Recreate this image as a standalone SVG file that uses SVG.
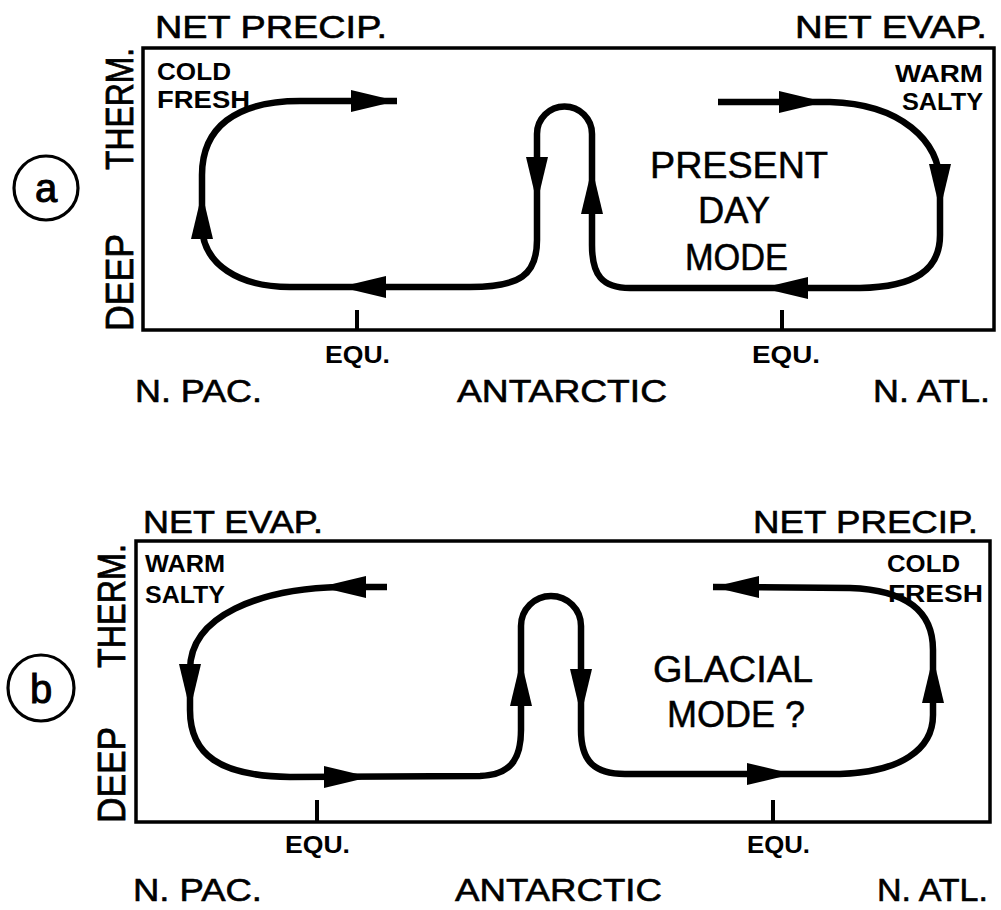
<svg xmlns="http://www.w3.org/2000/svg" xmlns:xlink="http://www.w3.org/1999/xlink" width="1001" height="910" viewBox="0 0 1001 910">
<style>
  .box{fill:none;stroke:#000;stroke-width:3.5}
  .flow{fill:none;stroke:#000;stroke-width:6.5;stroke-linecap:butt;stroke-linejoin:round}
  .tick{stroke:#000;stroke-width:4}
  .circ{fill:none;stroke:#000;stroke-width:3.2}
  .big{font-family:"Liberation Sans",Arial,sans-serif;font-size:32px;fill:#000;stroke:#000;stroke-width:0.6}
  .mode{font-family:"Liberation Sans",Arial,sans-serif;font-size:36px;fill:#000;stroke:#000;stroke-width:0.5}
  .axis{font-family:"Liberation Sans",Arial,sans-serif;font-size:38px;fill:#000;stroke:#000;stroke-width:0.8}
  .small{font-family:"Liberation Sans",Arial,sans-serif;font-size:24px;font-weight:bold;fill:#000}
  .equ{font-family:"Liberation Sans",Arial,sans-serif;font-size:23px;font-weight:bold;fill:#000}
  .letter{font-family:"Liberation Sans",Arial,sans-serif;font-size:40px;fill:#000;stroke:#000;stroke-width:1}
</style>
<defs>
  <path id="ah" d="M0,0 L-46,-11 L-46,11 Z" fill="#000"/>
</defs>

<!-- Panel a -->
<g id="panel-a">
  <rect class="box" x="143" y="48" width="851" height="282"/>
  <line class="tick" x1="357" y1="310" x2="357" y2="330"/>
  <line class="tick" x1="782" y1="310" x2="782" y2="330"/>
  <g id="a-label"><circle class="circ" cx="46" cy="188" r="32"/><text class="letter" x="46" y="202" text-anchor="middle">a</text></g>
  <g id="a-axis">
    <text class="axis" transform="translate(133,170) rotate(-90)" textLength="122" lengthAdjust="spacingAndGlyphs">THERM.</text>
    <text class="axis" transform="translate(133,331) rotate(-90)" textLength="97" lengthAdjust="spacingAndGlyphs">DEEP</text>
  </g>
  <g id="a-npac-surface">
    <text class="big" x="155" y="38" textLength="232" lengthAdjust="spacingAndGlyphs">NET PRECIP.</text>
    <text class="small" x="157" y="80" textLength="74" lengthAdjust="spacingAndGlyphs">COLD</text>
    <text class="small" x="157" y="108" textLength="93" lengthAdjust="spacingAndGlyphs">FRESH</text>
  </g>
  <g id="a-natl-surface">
    <text class="big" x="795" y="38" textLength="192" lengthAdjust="spacingAndGlyphs">NET EVAP.</text>
    <text class="small" x="895" y="82" textLength="88" lengthAdjust="spacingAndGlyphs">WARM</text>
    <text class="small" x="902" y="110" textLength="81" lengthAdjust="spacingAndGlyphs">SALTY</text>
  </g>
  <g id="a-mode">
    <text class="mode" x="650" y="178" textLength="178" lengthAdjust="spacingAndGlyphs">PRESENT</text>
    <text class="mode" x="698" y="223" textLength="72" lengthAdjust="spacingAndGlyphs">DAY</text>
    <text class="mode" x="685" y="270" textLength="103" lengthAdjust="spacingAndGlyphs">MODE</text>
  </g>
  <g id="a-bottom">
    <text class="equ" x="325" y="363" textLength="65" lengthAdjust="spacingAndGlyphs">EQU.</text>
    <text class="equ" x="752" y="363" textLength="68" lengthAdjust="spacingAndGlyphs">EQU.</text>
    <text class="big" x="135" y="402" textLength="127" lengthAdjust="spacingAndGlyphs">N. PAC.</text>
    <text class="big" x="457" y="402" textLength="210" lengthAdjust="spacingAndGlyphs">ANTARCTIC</text>
    <text class="big" x="873" y="402" textLength="117" lengthAdjust="spacingAndGlyphs">N. ATL.</text>
  </g>
</g>

<!-- Panel b -->
<g id="panel-b">
  <rect class="box" x="136" y="541" width="854" height="281"/>
  <line class="tick" x1="317" y1="800" x2="317" y2="822"/>
  <line class="tick" x1="773" y1="800" x2="773" y2="822"/>
  <g id="b-label"><circle class="circ" cx="41" cy="688" r="33"/><text class="letter" x="41" y="703" text-anchor="middle">b</text></g>
  <g id="b-axis">
    <text class="axis" transform="translate(125,668) rotate(-90)" textLength="124" lengthAdjust="spacingAndGlyphs">THERM.</text>
    <text class="axis" transform="translate(125,823) rotate(-90)" textLength="96" lengthAdjust="spacingAndGlyphs">DEEP</text>
  </g>
  <g id="b-npac-surface">
    <text class="big" x="143" y="533" textLength="180" lengthAdjust="spacingAndGlyphs">NET EVAP.</text>
    <text class="small" x="145" y="572" textLength="80" lengthAdjust="spacingAndGlyphs">WARM</text>
    <text class="small" x="145" y="603" textLength="80" lengthAdjust="spacingAndGlyphs">SALTY</text>
  </g>
  <g id="b-natl-surface">
    <text class="big" x="753" y="533" textLength="225" lengthAdjust="spacingAndGlyphs">NET PRECIP.</text>
    <text class="small" x="887" y="572" textLength="73" lengthAdjust="spacingAndGlyphs">COLD</text>
    <text class="small" x="888" y="602" textLength="95" lengthAdjust="spacingAndGlyphs">FRESH</text>
  </g>
  <g id="b-mode">
    <text class="mode" x="653" y="682" textLength="160" lengthAdjust="spacingAndGlyphs">GLACIAL</text>
    <text class="mode" x="667" y="727" textLength="138" lengthAdjust="spacingAndGlyphs">MODE ?</text>
  </g>
  <g id="b-bottom">
    <text class="equ" x="285" y="853" textLength="65" lengthAdjust="spacingAndGlyphs">EQU.</text>
    <text class="equ" x="747" y="853" textLength="63" lengthAdjust="spacingAndGlyphs">EQU.</text>
    <text class="big" x="133" y="901" textLength="129" lengthAdjust="spacingAndGlyphs">N. PAC.</text>
    <text class="big" x="455" y="901" textLength="207" lengthAdjust="spacingAndGlyphs">ANTARCTIC</text>
    <text class="big" x="877" y="901" textLength="111" lengthAdjust="spacingAndGlyphs">N. ATL.</text>
  </g>
</g>

<!-- Connectors -->
<g id="connectors">
  <path class="flow" d="M718,102 L830,102 C900,104 940,140 940,185 L940,235 C940,270 915,287 860,288 L630,288 C602,288 592,275 592,245 L592,134 A27.5,27.5 0 0 0 537,134 L537,240 C537,275 520,287 470,287 L290,287 C240,287 202,265 202,225 L202,175 C202,128 235,101 300,101 L397,101"/>
  <use xlink:href="#ah" transform="translate(397,101)"/>
  <use xlink:href="#ah" transform="translate(202,193) rotate(-90)"/>
  <use xlink:href="#ah" transform="translate(340,287) rotate(180)"/>
  <use xlink:href="#ah" transform="translate(537,203) rotate(90)"/>
  <use xlink:href="#ah" transform="translate(592,168) rotate(-90)"/>
  <use xlink:href="#ah" transform="translate(762,288) rotate(180)"/>
  <use xlink:href="#ah" transform="translate(940,210) rotate(90)"/>
  <use xlink:href="#ah" transform="translate(825,102)"/>

  <path class="flow" d="M387,587 L340,587 C260,589 190,615 190,670 L190,710 C190,755 220,776 290,777 L480,776 C510,775 521,760 521,730 L521,626 A30,30 0 0 1 581,626 L581,730 C581,762 595,774 625,774 L840,774 C900,772 933,750 933,715 L933,650 C933,610 905,590 850,588 L713,587"/>
  <use xlink:href="#ah" transform="translate(320,587) rotate(180)"/>
  <use xlink:href="#ah" transform="translate(190,710) rotate(90)"/>
  <use xlink:href="#ah" transform="translate(370,777)"/>
  <use xlink:href="#ah" transform="translate(521,660) rotate(-90)"/>
  <use xlink:href="#ah" transform="translate(581,715) rotate(90)"/>
  <use xlink:href="#ah" transform="translate(793,774)"/>
  <use xlink:href="#ah" transform="translate(933,657) rotate(-90)"/>
  <use xlink:href="#ah" transform="translate(713,587) rotate(180)"/>
</g>
</svg>
